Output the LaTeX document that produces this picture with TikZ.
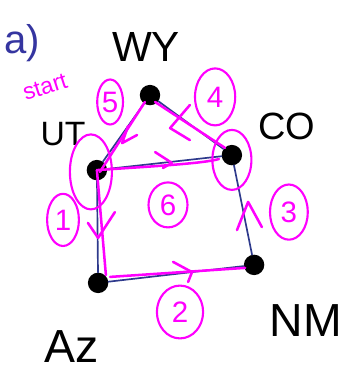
\documentclass[tikz,border=0pt]{standalone}
\usepackage{fontspec}
\setmainfont{Liberation Sans}
\usepackage{xcolor}
\definecolor{tintaGrafo}{HTML}{2E3A8C}
\definecolor{rosaRuta}{HTML}{FF00FF}
\definecolor{azulApartado}{HTML}{3535A0}
\usetikzlibrary{arrows.meta,positioning,shapes.geometric}

\begin{document}
\begin{tikzpicture}[x=1cm,y=1cm,line cap=round,line join=round,
  estado/.style={circle,fill=black,inner sep=0pt,minimum size=0.68cm},
  arista/.style={tintaGrafo,line width=1.6pt},
  ruta/.style={rosaRuta,line width=2.4pt},
  nombre/.style={inner sep=1pt,font=\fontsize{40}{40}\selectfont},
  paso/.style={ellipse,draw=rosaRuta,text=rosaRuta,line width=2pt,
    inner sep=0pt,font=\fontsize{28}{28}\selectfont}]

\useasboundingbox (0,0) rectangle (11.4,12.5);

% Estados
\node[estado] (wy) at (5.00,9.33) {};
\node[estado] (ut) at (3.23,6.83) {};
\node[estado] (co) at (7.73,7.33) {};
\node[estado] (az) at (3.27,3.07) {};
\node[estado] (nm) at (8.47,3.67) {};

% Aristas
\draw[arista] (ut) -- (wy);
\draw[arista] (wy) -- (co);
\draw[arista] (ut) -- (co);
\draw[arista] (ut) -- (az);
\draw[arista] (az) -- (nm);
\draw[arista] (nm) -- (co);

% Nombres
\node[nombre,text=azulApartado,font=\fontsize{38}{38}\selectfont] (apartado) at (0.75,11.05) {a)};
\node[nombre] (nwy) at (4.87,10.95) {WY};
\node[nombre,font=\fontsize{32}{32}\selectfont] (nut) at (2.10,8.02) {UT};
\node[nombre,font=\fontsize{36}{36}\selectfont] (nco) at (9.55,8.30) {CO};
\node[nombre,font=\fontsize{44}{44}\selectfont] (nnm) at (10.20,1.80) {NM};
\node[nombre,font=\fontsize{44}{44}\selectfont] (naz) at (2.40,0.95) {Az};
\node[nombre,text=rosaRuta,rotate=18,font=\fontsize{22}{22}\selectfont] (inicio) at (1.50,9.60) {start};

% Recorrido
\draw[ruta] (ut.center) -- (3.53,3.33);
\draw[ruta] (3.67,3.27) -- (8.17,3.57);
\draw[ruta] (7.50,7.57) -- (5.17,9.10);
\draw[ruta] (4.83,9.10) -- (3.33,6.77);
\draw[ruta] (ut.center) .. controls (5.0,6.95) and (6.8,7.05) .. (7.30,7.20);

% Marcas de sentido
\draw[ruta] (2.93,5.07) -- (3.27,4.57) -- (3.83,5.43);
\draw[ruta] (5.77,3.77) -- (6.40,3.43) -- (6.27,3.10);
\draw[ruta] (7.90,4.83) -- (8.27,5.77) -- (8.73,4.93);
\draw[ruta] (6.33,9.00) -- (5.67,8.23) -- (6.33,7.83);
\draw[ruta] (4.57,8.00) -- (4.07,7.73) -- (4.27,8.30);
\draw[ruta] (5.17,7.43) -- (5.73,7.07) -- (5.43,6.90);

% Pasos
\node[paso,minimum width=1.06cm,minimum height=1.74cm] (p1) at (2.10,5.17) {1};
\node[paso,minimum width=1.54cm,minimum height=1.76cm] (p2) at (6.00,2.10) {2};
\node[paso,minimum width=1.26cm,minimum height=1.84cm] (p3) at (9.63,5.43) {3};
\node[paso,minimum width=1.34cm,minimum height=1.90cm] (p4) at (7.17,9.27) {4};
\node[paso,minimum width=0.86cm,minimum height=1.50cm] (p5) at (3.67,9.10) {5};
\node[paso,minimum width=1.30cm,minimum height=1.50cm] (p6) at (5.60,5.67) {6};
\node[paso,minimum width=1.40cm,minimum height=2.50cm] (cut) at (3.03,6.77) {};
\node[paso,minimum width=1.30cm,minimum height=2.00cm] (cco) at (7.73,7.17) {};

\end{tikzpicture}
\end{document}
